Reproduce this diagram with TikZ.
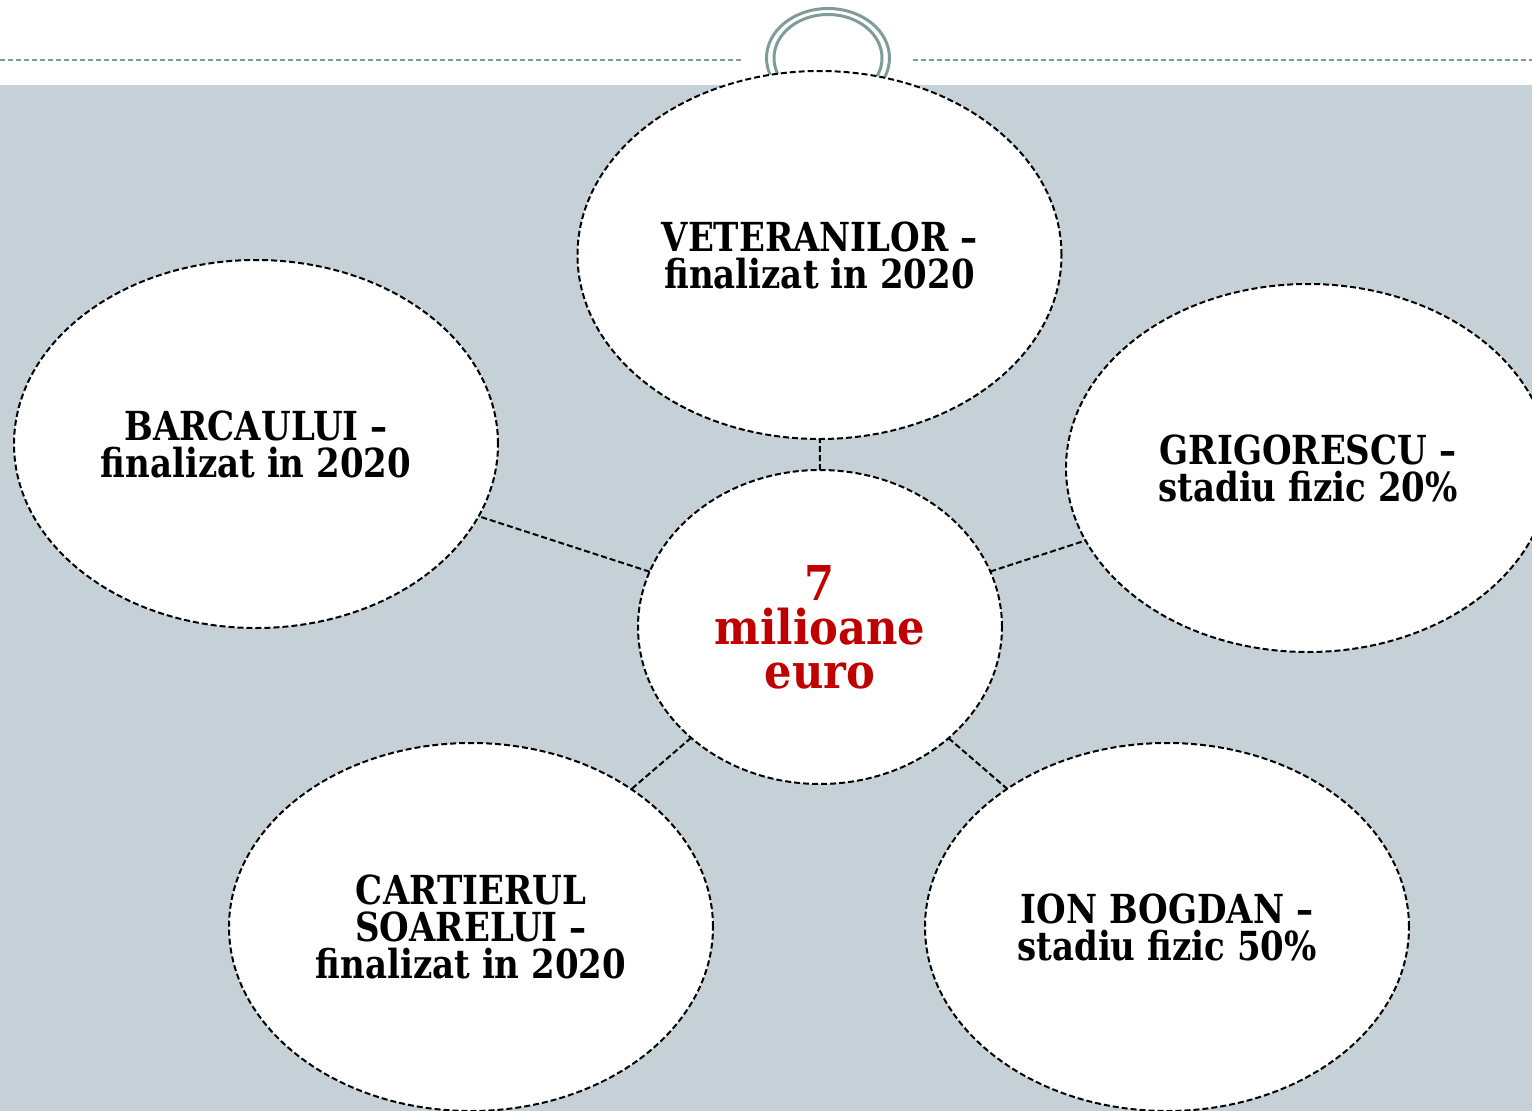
\documentclass[tikz,border=0pt]{standalone}
\usepackage{fontspec}
\setmainfont{DejaVu Serif}[FakeStretch=0.85]
\newfontfamily\hubfont{DejaVu Serif}[FakeStretch=0.9]
\usetikzlibrary{shapes.geometric}
\definecolor{bgcol}{HTML}{C5D1D7}
\definecolor{tealcol}{HTML}{7F9C9A}
\definecolor{redcol}{HTML}{C00000}
\begin{document}
\begin{tikzpicture}[x=1pt,y=-1pt,
  bubble/.style={ellipse,draw=black,fill=white,dash pattern=on 6pt off 3pt,line width=2pt,
    inner sep=0pt,outer sep=0pt,minimum width=484pt,minimum height=368pt,align=center,
    font=\fontsize{40}{37}\selectfont\bfseries},
  hub/.style={bubble,minimum width=364pt,minimum height=314pt,text=redcol,
    font=\hubfont\fontsize{48}{44}\selectfont\bfseries},
  link/.style={draw=black,dash pattern=on 6pt off 3pt,line width=2pt}]
\useasboundingbox (0,0) rectangle (1532,1111);
\clip (0,0) rectangle (1532,1111);
\fill[white] (0,0) rectangle (1532,85);
\fill[bgcol] (0,85) rectangle (1532,1111);
\draw[tealcol,line width=2pt,dash pattern=on 5pt off 3pt] (0,60) -- (742,60);
\draw[tealcol,line width=2pt,dash pattern=on 5pt off 3pt] (913,60) -- (1532,60);
\draw[tealcol,line width=3pt] (828,58) ellipse [x radius=61.5, y radius=49.5];
\draw[tealcol,line width=3pt] (828,58) ellipse [x radius=54, y radius=43.5];
\node[bubble] (vet) at (819.5,255) {VETERANILOR –\\finalizat in 2020};
\node[bubble] (bar) at (256,444) {BARCAULUI –\\finalizat in 2020};
\node[bubble] (gri) at (1308,468) {GRIGORESCU –\\stadiu fizic 20\%};
\node[bubble] (car) at (471,927) {CARTIERUL\\SOARELUI –\\finalizat in 2020};
\node[bubble] (ion) at (1167,927) {ION BOGDAN –\\stadiu fizic 50\%};
\node[hub] (hub) at (820,627) {7\\milioane\\euro};
\draw[link] (hub) -- (vet);
\draw[link] (hub) -- (bar);
\draw[link] (hub) -- (gri);
\draw[link] (hub) -- (car);
\draw[link] (hub) -- (ion);
\end{tikzpicture}
\end{document}
